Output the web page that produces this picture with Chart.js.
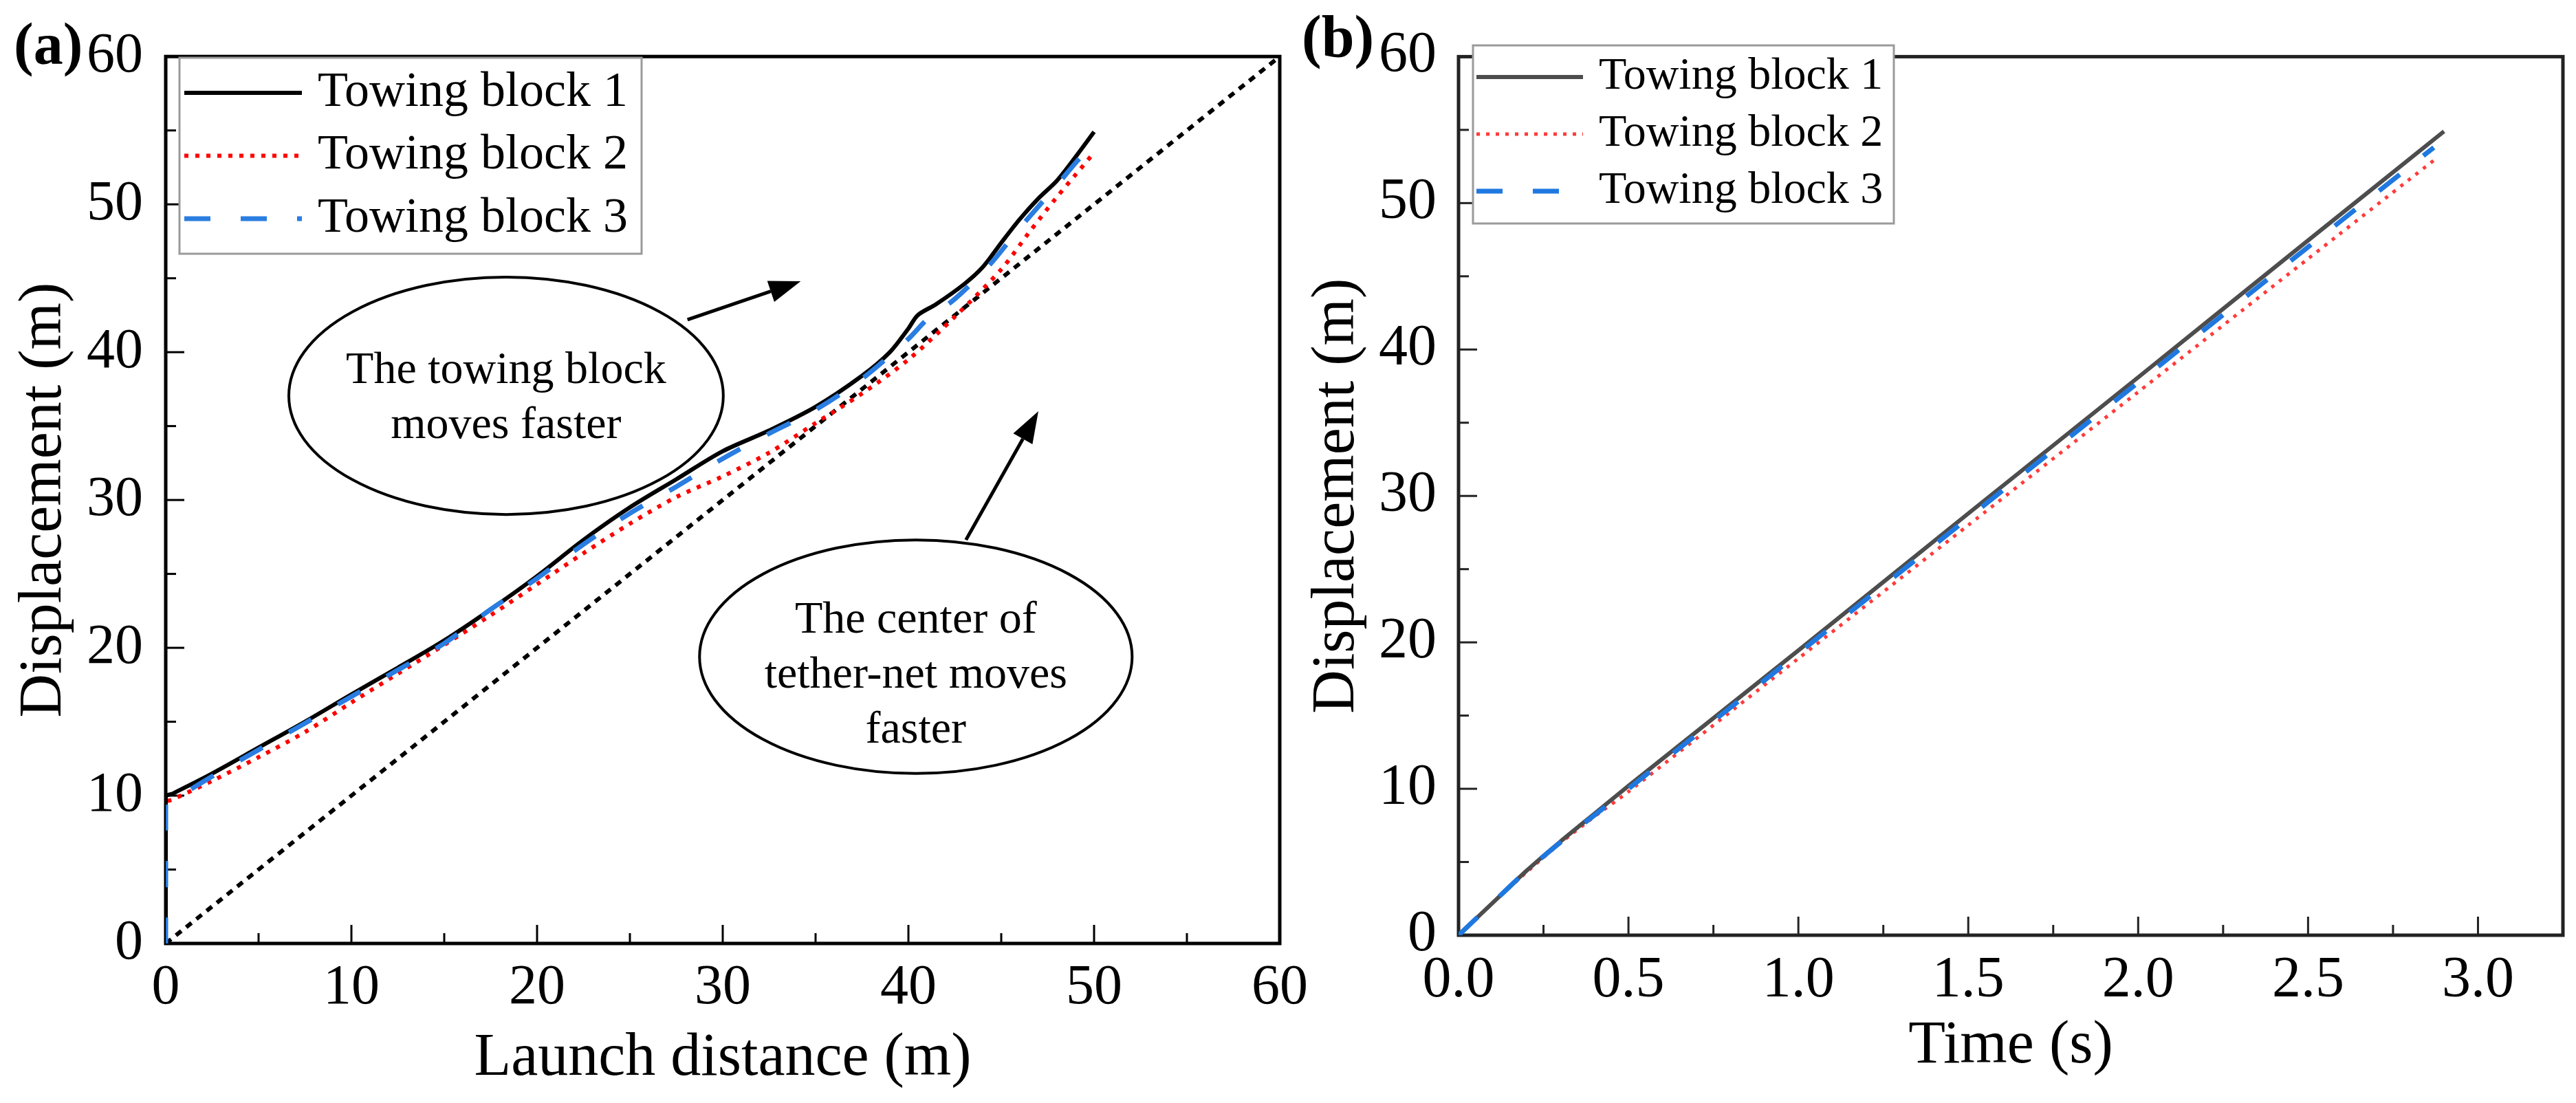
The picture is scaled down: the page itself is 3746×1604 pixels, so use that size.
<!DOCTYPE html>
<html>
<head>
<meta charset="utf-8">
<script src="https://cdn.jsdelivr.net/npm/chart.js@4.4.1/dist/chart.umd.min.js"></script>
<style>
  html, body { margin: 0; padding: 0; background: #fff; }
  body { width: 3746px; height: 1604px; position: relative; overflow: hidden; }
  canvas { position: absolute; top: 0; }
  #chartA { left: 0; }
  #chartB { left: 1880px; }
</style>
</head>
<body>
<canvas id="chartA" width="1920" height="1604"></canvas>
<canvas id="chartB" width="1866" height="1604"></canvas>
<script>
// (a) displacement vs launch distance
var seriesNames = ['Towing block 1', 'Towing block 2', 'Towing block 3'];

var block1Dist = [0, 0, 0.4, 2.5, 5, 7.5, 10, 12.5, 15, 17.5, 20, 22.5, 25, 27.5, 30, 32.5, 35, 37.5, 39, 40, 40.5, 41.5, 43, 44, 45, 46, 47, 48, 49, 50];
var block1Disp = [0, 9.9, 10.15, 11.5, 13.25, 15.0, 16.85, 18.65, 20.5, 22.6, 24.85, 27.3, 29.5, 31.4, 33.3, 34.7, 36.3, 38.4, 40.0, 41.6, 42.5, 43.25, 44.6, 45.75, 47.4, 49.0, 50.4, 51.6, 53.2, 54.9];

var block2Dist = [0, 0, 0.4, 2.5, 5, 7.5, 10, 12.5, 15, 17.5, 20, 22.5, 25, 27.5, 30, 32.5, 35, 37.5, 40, 42.5, 45, 46.5, 48, 49, 50];
var block2Disp = [0, 9.5, 9.75, 11.0, 12.6, 14.3, 16.3, 18.25, 20.2, 22.2, 24.3, 26.4, 28.4, 30.2, 31.6, 33.2, 35.2, 37.2, 39.5, 42.4, 45.6, 48.1, 50.5, 52.0, 53.5];

var block3Dist = [0, 0, 0.4, 2.5, 5, 7.5, 10, 12.5, 15, 17.5, 20, 22.5, 25, 27.5, 30, 32.5, 35, 37.5, 40, 41, 42.5, 44.3, 46, 48, 49, 50];
var block3Disp = [0, 9.4, 9.7, 11.3, 13.1, 14.9, 16.7, 18.5, 20.3, 22.6, 24.7, 27.0, 29.1, 30.9, 32.8, 34.5, 36.1, 38.2, 40.9, 42.2, 43.6, 45.8, 48.4, 51.3, 52.8, 54.2];

// centre of the tether-net (y = x)
var netDist = [0, 60];
var netDisp = [0, 60];

var distTicks = [0, 10, 20, 30, 40, 50, 60];
var distTickLabels = ['0', '10', '20', '30', '40', '50', '60'];
var dispTicks = [0, 10, 20, 30, 40, 50, 60];
var dispTickLabels = ['0', '10', '20', '30', '40', '50', '60'];

// (b) displacement vs time
var block1Time = [0, 0.1, 0.2, 0.3, 0.4, 0.5, 1.0, 1.5, 2.0, 2.5, 2.9];
var block1DispT = [0, 2.2, 4.4, 6.4, 8.3, 10.2, 19.45, 28.8, 38.1, 47.45, 54.9];
var block2Time = [0, 0.1, 0.2, 0.3, 0.4, 0.5, 1.0, 1.5, 2.0, 2.5, 2.88];
var block2DispT = [0, 2.2, 4.3, 6.3, 8.1, 9.8, 18.9, 28.0, 37.1, 46.2, 53.1];
var block3Time = [0, 0.1, 0.2, 0.3, 0.4, 0.5, 1.0, 1.5, 2.0, 2.5, 2.87];
var block3DispT = [0, 2.2, 4.4, 6.35, 8.2, 10.0, 19.25, 28.5, 37.75, 47.0, 53.8];

var timeTicks = [0, 0.5, 1.0, 1.5, 2.0, 2.5, 3.0];
var timeTickLabels = ['0.0', '0.5', '1.0', '1.5', '2.0', '2.5', '3.0'];

var serif = "'Liberation Serif', 'Times New Roman', serif";

function pts(xs, ys) {
    return xs.map(function (x, i) { return { x: x, y: ys[i] }; });
}

// rama un uz iekšu vērstas iedaļas
var frameTicks = {
    id: 'frameTicks',
    beforeDatasetsDraw: function (chart, args, o) {
        var ctx = chart.ctx, a = chart.chartArea;
        ctx.save();
        ctx.strokeStyle = o.color;
        ctx.lineWidth = 3;
        ['x', 'y'].forEach(function (id) {
            var s = chart.scales[id];
            var vals = s.ticks.map(function (t) { return t.value; });
            var step = vals[1] - vals[0];
            var tick = function (v, len) {
                var p = s.getPixelForValue(v);
                ctx.beginPath();
                if (id === 'x') { ctx.moveTo(p, a.bottom); ctx.lineTo(p, a.bottom - len); }
                else { ctx.moveTo(a.left, p); ctx.lineTo(a.left + len, p); }
                ctx.stroke();
            };
            vals.forEach(function (v) { tick(v, 27); });
            for (var v = s.min + step / 2; v < s.max - 1e-9; v += step) tick(v, 15);
        });
        ctx.lineWidth = 5;
        ctx.strokeRect(a.left, a.top, a.right - a.left, a.bottom - a.top);
        ctx.restore();
    }
};

// leģenda rāmī
var boxLegend = {
    id: 'boxLegend',
    afterDraw: function (chart, args, o) {
        var ctx = chart.ctx;
        ctx.save();
        ctx.fillStyle = '#fff';
        ctx.fillRect(o.left, o.top, o.width, o.height);
        ctx.strokeStyle = '#9a9a9a';
        ctx.lineWidth = 3;
        ctx.strokeRect(o.left, o.top, o.width, o.height);
        o.items.forEach(function (index, i) {
            var ds = chart.data.datasets[index];
            var y = o.top + o.rowTop + i * o.rowGap;
            ctx.beginPath();
            ctx.strokeStyle = ds.borderColor;
            ctx.lineWidth = ds.borderWidth;
            ctx.setLineDash(ds.borderDash || []);
            ctx.moveTo(o.left + o.lineStart, y);
            ctx.lineTo(o.left + o.lineEnd, y);
            ctx.stroke();
            ctx.setLineDash([]);
            ctx.fillStyle = '#000';
            ctx.font = o.fontSize + 'px ' + serif;
            ctx.textBaseline = 'middle';
            ctx.fillText(ds.label, o.left + o.textStart, y);
        });
        ctx.restore();
    }
};

// elipses ar tekstu un bultas
var notes = {
    id: 'notes',
    afterDatasetsDraw: function (chart, args, o) {
        var ctx = chart.ctx, xs = chart.scales.x, ys = chart.scales.y;
        ctx.save();
        ctx.strokeStyle = '#000';
        ctx.fillStyle = '#000';
        (o.ellipses || []).forEach(function (e) {
            var cx = xs.getPixelForValue(e.x), cy = ys.getPixelForValue(e.y);
            var rx = xs.getPixelForValue(e.x + e.rx) - cx;
            var ry = cy - ys.getPixelForValue(e.y + e.ry);
            ctx.lineWidth = 4;
            ctx.beginPath();
            ctx.ellipse(cx, cy, rx, ry, 0, 0, Math.PI * 2);
            ctx.stroke();
            ctx.font = '66px ' + serif;
            ctx.textAlign = 'center';
            ctx.textBaseline = 'alphabetic';
            e.lines.forEach(function (t, i) {
                ctx.fillText(t, cx, cy + e.firstBaseline + i * 80);
            });
        });
        (o.arrows || []).forEach(function (ar) {
            var x0 = xs.getPixelForValue(ar.from[0]), y0 = ys.getPixelForValue(ar.from[1]);
            var x1 = xs.getPixelForValue(ar.to[0]), y1 = ys.getPixelForValue(ar.to[1]);
            var ang = Math.atan2(y1 - y0, x1 - x0);
            var hl = 46, hw = 16;
            var bx = x1 - hl * Math.cos(ang), by = y1 - hl * Math.sin(ang);
            ctx.lineWidth = 5;
            ctx.beginPath();
            ctx.moveTo(x0, y0);
            ctx.lineTo(bx, by);
            ctx.stroke();
            ctx.beginPath();
            ctx.moveTo(x1, y1);
            ctx.lineTo(bx + hw * Math.sin(ang), by - hw * Math.cos(ang));
            ctx.lineTo(bx - hw * Math.sin(ang), by + hw * Math.cos(ang));
            ctx.closePath();
            ctx.fill();
        });
        ctx.restore();
    }
};

// paneļa apzīmējums (a) / (b)
var panelTag = {
    id: 'panelTag',
    afterDraw: function (chart, args, o) {
        var ctx = chart.ctx;
        ctx.save();
        ctx.fillStyle = '#000';
        ctx.font = 'bold 86px ' + serif;
        ctx.textBaseline = 'alphabetic';
        ctx.fillText(o.text, o.x, o.y);
        ctx.restore();
    }
};

function axis(min, max, ticks, labels, fit, title, tickSize, tickPad, titlePad) {
    return {
        type: 'linear',
        min: min,
        max: max,
        afterBuildTicks: function (s) { s.ticks = ticks.map(function (v) { return { value: v }; }); },
        afterFit: fit,
        grid: { display: false, drawTicks: false },
        border: { display: false },
        ticks: {
            color: '#000',
            font: { family: serif, size: tickSize },
            padding: tickPad,
            maxRotation: 0,
            autoSkip: false,
            includeBounds: false,
            callback: function (v, i) { return labels[i]; }
        },
        title: {
            display: true,
            text: title,
            color: '#000',
            font: { family: serif, size: 88 },
            padding: titlePad
        }
    };
}

// Zīmē (a) grafiku
new Chart(document.getElementById('chartA').getContext('2d'), {
    type: 'scatter',
    data: {
        datasets: [
            { label: seriesNames[0], data: pts(block1Dist, block1Disp), borderColor: '#000000', borderWidth: 6, order: 1 },
            { label: seriesNames[1], data: pts(block2Dist, block2Disp), borderColor: '#ff0000', borderWidth: 6, borderDash: [6, 10], order: 2 },
            { label: seriesNames[2], data: pts(block3Dist, block3Disp), borderColor: '#2a7de1', borderWidth: 7, borderDash: [38, 44], order: 0 },
            { label: 'Tether-net centre', data: pts(netDist, netDisp), borderColor: '#000000', borderWidth: 6, borderDash: [10, 9], order: 3, tension: 0 }
        ]
    },
    options: {
        responsive: false,
        animation: false,
        devicePixelRatio: 1,
        showLine: true,
        elements: { point: { radius: 0 }, line: { tension: 0.3, borderCapStyle: 'butt', fill: false } },
        layout: { padding: { left: 0, top: 65, right: 59, bottom: 0 }, autoPadding: false },
        scales: {
            x: axis(0, 60, distTicks, distTickLabels, function (s) { s.height = 232; }, 'Launch distance (m)', 82, 16, { top: 0, bottom: 11 }),
            y: axis(0, 60, dispTicks, dispTickLabels, function (s) { s.width = 241; }, 'Displacement (m)', 82, 33, { top: 12, bottom: 0 })
        },
        plugins: {
            legend: { display: false },
            tooltip: { enabled: false },
            frameTicks: { color: '#000' },
            boxLegend: { left: 261, top: 84, width: 672, height: 285, rowTop: 51, rowGap: 91.5, lineStart: 7, lineEnd: 178, textStart: 201, fontSize: 72, items: [0, 1, 2] },
            notes: {
                ellipses: [
                    { x: 18.33, y: 37.05, rx: 11.7, ry: 8.03, firstBaseline: -19, lines: ['The towing block', 'moves faster'] },
                    { x: 40.4, y: 19.4, rx: 11.65, ry: 7.9, firstBaseline: -35, lines: ['The center of', 'tether-net moves', 'faster'] }
                ],
                arrows: [
                    { from: [28.1, 42.2], to: [34.2, 44.8] },
                    { from: [43.1, 27.3], to: [47.0, 36.0] }
                ]
            },
            panelTag: { text: '(a)', x: 20, y: 93 }
        }
    },
    plugins: [frameTicks, boxLegend, notes, panelTag]
});

// Zīmē (b) grafiku
new Chart(document.getElementById('chartB').getContext('2d'), {
    type: 'scatter',
    data: {
        datasets: [
            { label: seriesNames[0], data: pts(block1Time, block1DispT), borderColor: '#4d4d4d', borderWidth: 6, order: 1 },
            { label: seriesNames[1], data: pts(block2Time, block2DispT), borderColor: '#ff3b3b', borderWidth: 5, borderDash: [5, 9], order: 2 },
            { label: seriesNames[2], data: pts(block3Time, block3DispT), borderColor: '#1f78e0', borderWidth: 7, borderDash: [38, 44], order: 0 }
        ]
    },
    options: {
        responsive: false,
        animation: false,
        devicePixelRatio: 1,
        showLine: true,
        elements: { point: { radius: 0 }, line: { tension: 0.2, borderCapStyle: 'butt', fill: false } },
        layout: { padding: { left: 0, top: 55, right: 19, bottom: 0 }, autoPadding: false },
        scales: {
            x: axis(0, 3.25, timeTicks, timeTickLabels, function (s) { s.height = 244; }, 'Time (s)', 84, 17, { top: 0, bottom: 29 }),
            y: axis(0, 60, dispTicks, dispTickLabels, function (s) { s.width = 241; }, 'Displacement (m)', 84, 32, { top: 12, bottom: 0 })
        },
        plugins: {
            legend: { display: false },
            tooltip: { enabled: false },
            frameTicks: { color: '#222' },
            boxLegend: { left: 262, top: 66, width: 612, height: 259, rowTop: 46, rowGap: 83, lineStart: 5, lineEnd: 160, textStart: 183, fontSize: 66, items: [0, 1, 2] },
            panelTag: { text: '(b)', x: 13, y: 82 }
        }
    },
    plugins: [frameTicks, boxLegend, panelTag]
});
</script>
</body>
</html>
